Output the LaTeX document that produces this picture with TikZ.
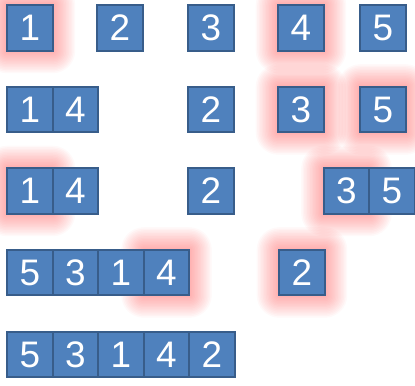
\documentclass[tikz,border=0pt]{standalone}
\usepackage{fontspec}
\newfontfamily\cellfont{Liberation Sans}
\usetikzlibrary{positioning, backgrounds}
\definecolor{cellblue}{HTML}{4F81BD}
\definecolor{celledge}{HTML}{385D8A}

\begin{document}
\begin{tikzpicture}[
  cell/.style={draw=celledge, fill=cellblue, line width=1.4pt, text=white,
    minimum size=0.91cm, inner sep=0pt, outer sep=0pt,
    font=\cellfont\fontsize{21}{24}\selectfont},
  glow/.style={fill=red!90!white, fill opacity=0.028}]
  \useasboundingbox (0,0) rectangle (8.3,-7.72);
  % row 1: single elements
  \node[cell] (a1) at (0.60,-0.56) {1};
  \node[cell] (a2) at (2.40,-0.56) {2};
  \node[cell] (a3) at (4.22,-0.56) {3};
  \node[cell] (a4) at (6.02,-0.56) {4};
  \node[cell] (a5) at (7.66,-0.56) {5};
  % row 2
  \node[cell] (b1) at (0.60,-2.19) {1};
  \node[cell, right=0pt of b1] (b4) {4};
  \node[cell] (b2) at (4.22,-2.19) {2};
  \node[cell] (b3) at (6.02,-2.19) {3};
  \node[cell] (b5) at (7.66,-2.19) {5};
  % row 3
  \node[cell] (c1) at (0.60,-3.82) {1};
  \node[cell, right=0pt of c1] (c4) {4};
  \node[cell] (c2) at (4.22,-3.82) {2};
  \node[cell] (c3) at (6.93,-3.82) {3};
  \node[cell, right=0pt of c3] (c5) {5};
  % row 4
  \node[cell] (d5) at (0.60,-5.45) {5};
  \node[cell, right=0pt of d5] (d3) {3};
  \node[cell, right=0pt of d3] (d1) {1};
  \node[cell, right=0pt of d1] (d4) {4};
  \node[cell] (d2) at (6.04,-5.45) {2};
  % row 5: sorted
  \node[cell] (e5) at (0.60,-7.09) {5};
  \node[cell, right=0pt of e5] (e3) {3};
  \node[cell, right=0pt of e3] (e1) {1};
  \node[cell, right=0pt of e1] (e4) {4};
  \node[cell, right=0pt of e4] (e2) {2};
  % red glow behind the compared cells
  \begin{scope}[on background layer]
    \foreach \n in {a1,a4,b3,b5,c1,c3,d4,d2}
      \foreach \s in {0.03,0.06,...,0.45}
        \fill[glow, rounded corners=\s cm]
          ([xshift=-\s cm, yshift=-\s cm]\n.south west)
          rectangle ([xshift=\s cm, yshift=\s cm]\n.north east);
  \end{scope}
\end{tikzpicture}
\end{document}
